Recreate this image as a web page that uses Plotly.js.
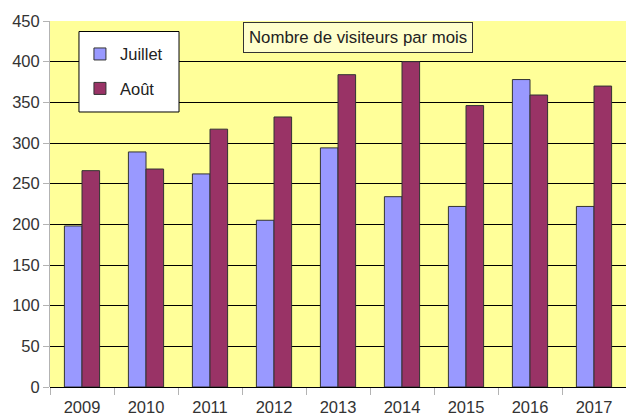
<!DOCTYPE html>
<html>
<head>
<meta charset="utf-8">
<script src="https://cdn.plot.ly/plotly-3.0.1.min.js"></script>
<style>
  body { margin: 0; background: #fff; }
  #chart { width: 626px; height: 416px; }
</style>
</head>
<body>
<div id="chart"></div>
<script>
// données
let annees = ['2009', '2010', '2011', '2012', '2013', '2014', '2015', '2016', '2017'];
let juillet = [198, 289, 262, 205, 294, 234, 222, 378, 222];
let aout = [266, 268, 317, 332, 384, 400, 346, 359, 370];
let yTicks = [0, 50, 100, 150, 200, 250, 300, 350, 400, 450];

let police = 'Liberation Sans, Arial, sans-serif';

let traceJuillet = {
    type: 'bar',
    name: 'Juillet',
    x: annees,
    y: juillet,
    legendgroup: 'a',
    marker: { color: '#9999ff', line: { color: '#333333', width: 1 } }
};

let traceAout = {
    type: 'bar',
    name: 'Août',
    x: annees,
    y: aout,
    legendgroup: 'b',
    marker: { color: '#993366', line: { color: '#333333', width: 1 } }
};

let data = [traceJuillet, traceAout];

let layout = {
    width: 626,
    height: 416,
    margin: { l: 50, r: 0, t: 21, b: 29 },
    paper_bgcolor: '#ffffff',
    plot_bgcolor: '#ffff99',
    font: { family: police, size: 16.5, color: '#333333' },
    barmode: 'group',
    bargap: 0.45,
    bargroupgap: 0,
    showlegend: true,
    // la légende est posée sur un cadre blanc dessiné en forme
    legend: {
        x: 0.052, y: 0.957,
        xanchor: 'left', yanchor: 'top',
        bgcolor: 'rgba(0,0,0,0)',
        borderwidth: 0,
        traceorder: 'grouped',
        tracegroupgap: 10,
        font: { family: police, size: 16.5, color: '#222222' }
    },
    shapes: [{
        type: 'rect',
        xref: 'paper', yref: 'paper',
        x0: 0.0503, x1: 0.224, y0: 0.7514, y1: 0.9713,
        fillcolor: '#ffffff',
        line: { color: '#000000', width: 1 },
        layer: 'above'
    }],
    xaxis: {
        type: 'category',
        tickson: 'boundaries',
        ticks: 'outside',
        ticklen: 7,
        tickcolor: '#b3b3b3',
        ticklabelstandoff: 8,
        showgrid: false,
        showline: false,
        fixedrange: true
    },
    yaxis: {
        range: [0, 450],
        tickvals: yTicks,
        ticks: 'outside',
        ticklen: 6,
        tickcolor: '#b3b3b3',
        showline: true,
        linecolor: '#b3b3b3',
        gridcolor: '#000000',
        gridwidth: 1,
        zeroline: true,
        zerolinecolor: '#000000',
        zerolinewidth: 1,
        fixedrange: true
    },
    annotations: [{
        text: 'Nombre de visiteurs par mois',
        xref: 'paper', yref: 'paper',
        x: 0.535, y: 0.955,
        xanchor: 'center', yanchor: 'middle',
        showarrow: false,
        bgcolor: '#ffffcc',
        bordercolor: '#333333',
        borderwidth: 1,
        borderpad: 5,
        font: { family: police, size: 16.8, color: '#222222' }
    }]
};

Plotly.newPlot('chart', data, layout, { displayModeBar: false, staticPlot: true });
</script>
</body>
</html>
